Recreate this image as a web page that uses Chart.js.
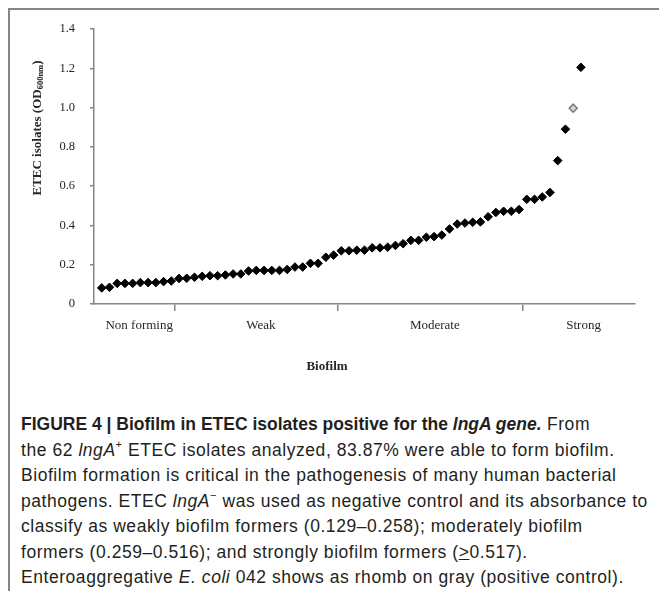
<!DOCTYPE html>
<html>
<head>
<meta charset="utf-8">
<script src="https://cdn.jsdelivr.net/npm/chart.js@4.4.1/dist/chart.umd.min.js"></script>
<style>
  html, body { margin: 0; padding: 0; background: #fff; overflow: hidden; width: 659px; height: 591px; }
  #frame { position: absolute; left: 8px; top: 8px; width: 720px; height: 720px;
           border-left: 2px solid #858585; border-top: 2px solid #858585; }
  #chart { position: absolute; left: 0; top: 0; }
  #caption { position: absolute; left: 21px; top: 412px; color: #231f20; white-space: nowrap;
             font-family: "Liberation Sans", Arial, sans-serif; font-size: 17.5px; line-height: 25.5px;
             letter-spacing: 0.55px; }
  #caption b { letter-spacing: 0; }
  #caption sup { font-size: 11px; line-height: 0; position: relative; top: -1px; }
</style>
</head>
<body>
<div id="frame"></div>
<canvas id="chart" width="659" height="400"></canvas>
<div id="caption">
<b>FIGURE 4 | Biofilm in ETEC isolates positive for the <i>lngA gene.</i></b> From<br>
the 62 <i>lngA</i><sup>+</sup> ETEC isolates analyzed, 83.87% were able to form biofilm.<br>
Biofilm formation is critical in the pathogenesis of many human bacterial<br>
pathogens. ETEC <i>lngA</i><sup>&minus;</sup> was used as negative control and its absorbance to<br>
classify as weakly biofilm formers (0.129&ndash;0.258); moderately biofilm<br>
formers (0.259&ndash;0.516); and strongly biofilm formers (<u>&gt;</u>0.517).<br>
Enteroaggregative <i>E. coli</i> 042 shows as rhomb on gray (positive control).
</div>
<script>
// Biofilm categories shown along the x axis
const categories = ['Non forming', 'Weak', 'Moderate', 'Strong'];
// Lower OD limits of the weak, moderate and strong classes
const classThresholds = [0.129, 0.259, 0.517];
// OD600nm of the 62 lngA+ ETEC isolates (ascending)
const isolateOD = [
  0.082, 0.085, 0.105, 0.105, 0.105, 0.109, 0.109, 0.109, 0.114, 0.117,
  0.130, 0.131, 0.136, 0.141, 0.144, 0.144, 0.148, 0.153, 0.153, 0.168,
  0.171, 0.171, 0.171, 0.171, 0.176, 0.188, 0.188, 0.207, 0.207, 0.238,
  0.249, 0.271, 0.271, 0.274, 0.274, 0.286, 0.286, 0.289, 0.298, 0.307,
  0.324, 0.324, 0.340, 0.343, 0.351, 0.382, 0.407, 0.412, 0.416, 0.418,
  0.444, 0.466, 0.472, 0.472, 0.481, 0.533, 0.533, 0.545, 0.568, 0.730,
  0.890, 1.205
];
// Enteroaggregative E. coli 042 (positive control)
const positiveControlOD = 0.997;
// y axis tick labels
const yTickLabels = ['0', '0.2', '0.4', '0.6', '0.8', '1.0', '1.2', '1.4'];

// rank every strain by OD; rank is the x position
const ranked = isolateOD.map(v => ({ v, control: false }))
  .concat([{ v: positiveControlOD, control: true }])
  .sort((a, b) => a.v - b.v)
  .map((p, i) => ({ ...p, x: i + 1 }));

const isolatePoints = ranked.filter(p => !p.control).map(p => ({ x: p.x, y: p.v }));
const controlPoints = ranked.filter(p => p.control).map(p => ({ x: p.x, y: p.v }));

// class boundaries fall between the last strain below a threshold and the next one
const X_MAX = 70;
const boundaries = classThresholds.map(t => ranked.filter(p => p.v < t).length + 0.5);
const edges = [0, ...boundaries, X_MAX];
const labelAt = new Map();
categories.forEach((c, i) => labelAt.set((edges[i] + edges[i + 1]) / 2 + 0.6, c));
const boundarySet = new Set(boundaries);
const xTickValues = [...labelAt.keys(), ...boundaries].sort((a, b) => a - b);

const AXIS_GRAY = '#858585';
const TEXT = '#262626';
const SERIF = '"Liberation Serif", "Times New Roman", serif';

// axis titles (the y title carries a subscript)
const axisTitles = {
  id: 'axisTitles',
  afterDraw(chart) {
    const ctx = chart.ctx;
    ctx.save();
    ctx.fillStyle = TEXT;
    ctx.textBaseline = 'middle';

    // y title
    const mainFont = 'bold 13px ' + SERIF;
    const subFont = 'bold 8.5px ' + SERIF;
    const parts = [
      { t: 'ETEC isolates (OD', f: mainFont, dy: 0 },
      { t: '600nm', f: subFont, dy: 3.5 },
      { t: ')', f: mainFont, dy: 0 }
    ];
    let total = 0;
    parts.forEach(p => { ctx.font = p.f; p.w = ctx.measureText(p.t).width; total += p.w; });
    ctx.translate(37.5, 128);
    ctx.rotate(-Math.PI / 2);
    let x = -total / 2;
    ctx.textAlign = 'left';
    parts.forEach(p => { ctx.font = p.f; ctx.fillText(p.t, x, p.dy); x += p.w; });
    ctx.restore();

    // x title
    ctx.save();
    ctx.fillStyle = TEXT;
    ctx.font = 'bold 13px ' + SERIF;
    ctx.textAlign = 'center';
    ctx.textBaseline = 'middle';
    ctx.fillText('Biofilm', 327, 367);
    ctx.restore();
  }
};

new Chart(document.getElementById('chart'), {
  type: 'scatter',
  data: {
    datasets: [
      {
        label: 'ETEC lngA+',
        data: isolatePoints,
        pointStyle: 'rectRot',
        pointRadius: 4.3,
        pointBorderWidth: 1,
        backgroundColor: '#000',
        borderColor: '#000'
      },
      {
        label: 'EAEC 042',
        data: controlPoints,
        pointStyle: 'rectRot',
        pointRadius: 4,
        pointBorderWidth: 1.5,
        backgroundColor: '#d6d6d6',
        borderColor: '#7a7a7a'
      }
    ]
  },
  options: {
    responsive: false,
    animation: false,
    events: [],
    layout: { padding: { top: 29, right: 24, left: 0, bottom: 0 } },
    plugins: { legend: { display: false }, tooltip: { enabled: false } },
    scales: {
      x: {
        type: 'linear',
        min: 0,
        max: X_MAX,
        afterFit(scale) { scale.height = 96; },
        afterBuildTicks(scale) { scale.ticks = xTickValues.map(v => ({ value: v })); },
        grid: {
          drawOnChartArea: false,
          tickLength: 7,
          lineWidth: 1.5,
          color: ctx => (ctx.tick && boundarySet.has(ctx.tick.value)) ? AXIS_GRAY : 'rgba(0,0,0,0)'
        },
        border: { color: AXIS_GRAY, width: 1.5 },
        ticks: {
          autoSkip: false,
          maxRotation: 0,
          minRotation: 0,
          padding: 7,
          color: TEXT,
          font: { family: SERIF, size: 13 },
          callback: v => labelAt.get(v) || ''
        }
      },
      y: {
        min: 0,
        max: 1.4,
        afterFit(scale) { scale.width = 94; },
        grid: { drawOnChartArea: false, tickLength: 4, lineWidth: 1.5, color: AXIS_GRAY },
        border: { color: AXIS_GRAY, width: 1.5 },
        ticks: {
          stepSize: 0.2,
          padding: 15,
          color: TEXT,
          font: { family: SERIF, size: 12.5 },
          callback: (v, i) => yTickLabels[i]
        }
      }
    }
  },
  plugins: [axisTitles]
});
</script>
</body>
</html>
